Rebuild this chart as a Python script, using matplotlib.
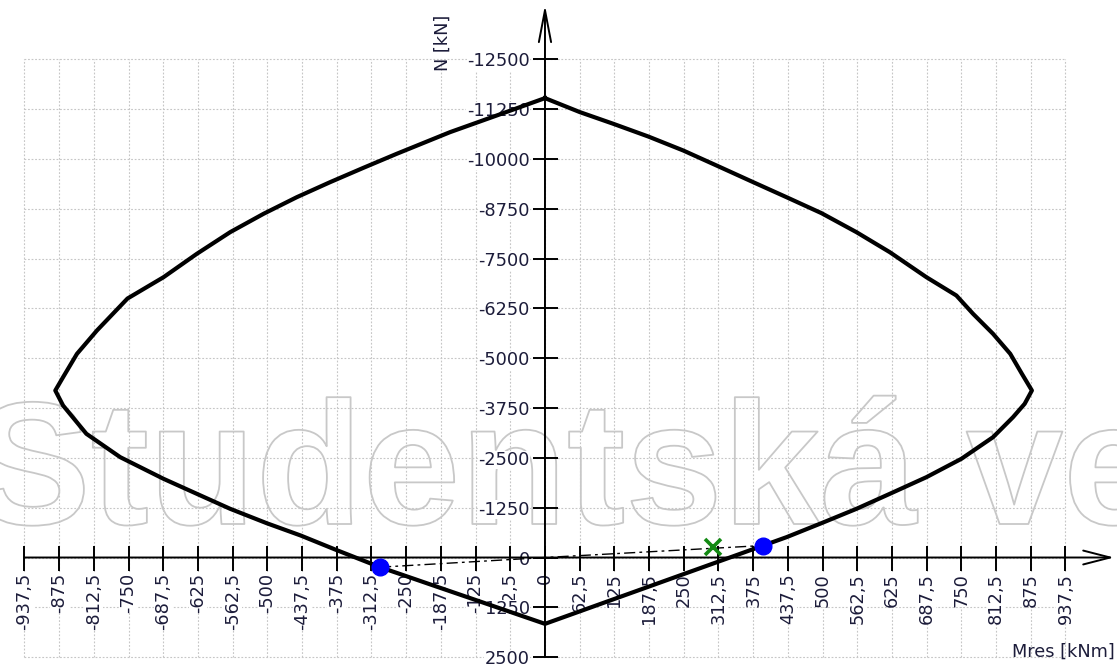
import matplotlib
matplotlib.use("Agg")
import matplotlib.pyplot as plt
import matplotlib.patheffects as pe
import numpy as np

# N-M interaction envelope, clockwise from the top (M in kNm, N in kN, compression negative)
m_env = [0, 63, 123, 186, 249, 309, 375, 435, 498, 561, 621, 687, 741, 771, 807, 838, 859, 877,
         864, 843, 807, 750, 687, 621, 561, 498, 435, 375, 309, 249, 189, 123, 60, 0,
         -63, -126, -189, -252, -297, -376, -440, -501, -567, -627, -687, -765, -826, -868, -882,
         -868, -843, -807, -752, -687, -627, -567, -507, -447, -387, -327, -267, -171, -87, 0]
n_env = [-11530, -11178, -10886, -10567, -10216, -9839, -9421, -9044, -8643, -8166, -7664, -7036,
         -6576, -6117, -5615, -5113, -4611, -4192,
         -3858, -3522, -3020, -2477, -2016, -1598, -1222, -862, -510, -210, 120, 420, 720, 1050, 1365, 1665,
         1363, 1061, 760, 458, 243, -190, -552, -860, -1222, -1598, -1975, -2518, -3105, -3815, -4192,
         -4526, -5112, -5698, -6500, -7036, -7623, -8166, -8626, -9044, -9421, -9781, -10133,
         -10676, -11094, -11530]

# Resistance points on the envelope and the load point
m_res = [-297, 393]
n_res = [243, -301]
m_load = [303]
n_load = [-259]

m_ticks = np.arange(-937.5, 937.5 + 1, 62.5)
n_ticks = np.arange(-12500, 2500 + 1, 1250)


def fmt(v):
    return f"{v:g}".replace(".", ",")


m_tick_labels = [fmt(v) for v in m_ticks]
n_tick_labels = [fmt(v) for v in n_ticks]

TXT = "#1c1c3a"
FS = 12.8

fig = plt.figure(figsize=(11.17, 6.66), dpi=100)
ax = fig.add_axes([0, 0, 1, 1])
ax.set_xlim(-981.6, 1030.3)
ax.set_ylim(2723, -13993)
ax.set_facecolor("white")

for s in ax.spines.values():
    s.set_visible(False)
ax.spines["left"].set_position(("data", 0))
ax.spines["bottom"].set_position(("data", 0))

# dotted grid limited to the tick range
grid_kw = dict(color="#c6c6c6", linewidth=0.8, linestyles=(0, (1.6, 1.6)), zorder=0.8)
ax.vlines(m_ticks, n_ticks[-1], n_ticks[0], **grid_kw)
ax.hlines(n_ticks, m_ticks[0], m_ticks[-1], **grid_kw)

# ticks and labels
ax.set_xticks(m_ticks, m_tick_labels, rotation=90)
ax.set_yticks(n_ticks, n_tick_labels)
ax.tick_params(axis="both", direction="inout", length=18, width=1.4, color="black",
               labelsize=FS, labelcolor=TXT, pad=2)
for lab in ax.get_xticklabels() + ax.get_yticklabels():
    lab.set_bbox(dict(facecolor="white", edgecolor="none", pad=0.3))

# axis lines with open arrowheads
ax.annotate("", xy=(1025, 0), xytext=(m_ticks[0], 0),
            arrowprops=dict(arrowstyle="->,head_length=0.97,head_width=0.25", lw=1.4,
                            color="black", shrinkA=0, shrinkB=0, mutation_scale=20), zorder=2.6)
ax.annotate("", xy=(0, -13868), xytext=(0, n_ticks[-1]),
            arrowprops=dict(arrowstyle="->,head_length=1.15,head_width=0.22", lw=1.4,
                            color="black", shrinkA=0, shrinkB=0, mutation_scale=20), zorder=2.6)

# watermark (outline only)
ax.text(-26 / 1117, (666 - 524) / 666, "Studentská ve", transform=fig.transFigure,
        family="Liberation Sans", weight="bold", fontsize=126, color="none",
        ha="left", va="baseline", zorder=1.2,
        path_effects=[pe.withStroke(linewidth=1.3, foreground="#c8c8c8")])

# envelope
ax.plot(m_env, n_env, color="black", linewidth=3.0, solid_joinstyle="round", zorder=3)

# lines from the origin to the resistance points
ax.plot([m_res[0], 0, m_res[1]], [n_res[0], 0, n_res[1]], color="black", linewidth=1.0,
        linestyle=(0, (8, 3, 2, 3)), zorder=3.2)

ax.plot(m_load, n_load, linestyle="none", marker="x", markersize=12, markeredgewidth=2.6,
        color="#138a13", zorder=4)
ax.plot(m_res, n_res, linestyle="none", marker="o", markersize=12, color="#0000ff", zorder=4)

# axis titles
fig.text(443 / 1117, 1 - 43 / 666, "N [kN]", rotation=90, ha="center", va="center",
         fontsize=FS, color=TXT)
fig.text(1115 / 1117, 1 - 652 / 666, "Mres [kNm]", ha="right", va="center",
         fontsize=FS, color=TXT)

fig.savefig("out.png", dpi=100)
